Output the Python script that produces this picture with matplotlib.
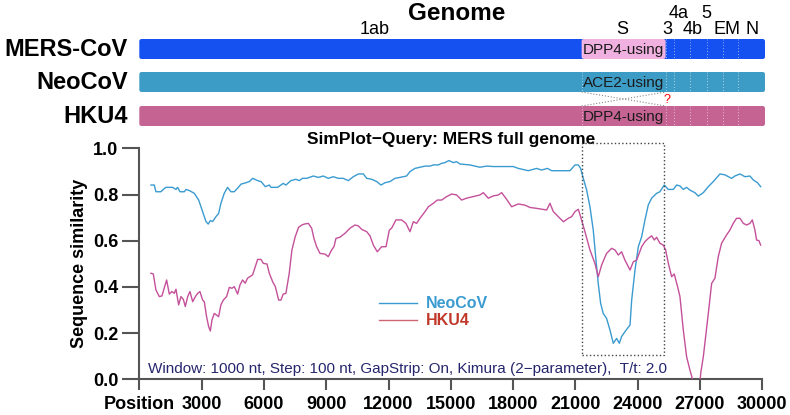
import matplotlib
matplotlib.use("Agg")
import matplotlib.pyplot as plt
from matplotlib.patches import FancyBboxPatch, Rectangle
from matplotlib.lines import Line2D

plt.rcParams['font.family'] = ['Liberation Sans', 'DejaVu Sans']

# ---------------- data ----------------
neo_pos = [560, 720, 800, 1040, 1155, 1280, 1600, 1765, 1845, 1960, 2170, 2250, 2410, 2650, 2860,
           3050, 3210, 3320, 3420, 3530, 3690, 3820, 3930, 4090, 4250, 4410, 4570, 4730, 4900, 5140,
           5300, 5460, 5700, 5860, 6070, 6260, 6340, 6660, 6820, 6930, 7060, 7300, 7540, 7700, 7860,
           8060, 8380, 8620, 8860, 9100, 9340, 9580, 9820, 10065, 10305, 10550, 10790, 10950, 11190,
           11430, 11640, 11830, 12070, 12310, 12550, 12870, 13035, 13275, 13515, 13760, 14000, 14160,
           14400, 14560, 14720, 14910, 15120, 15280, 15440, 15920, 16400, 16720, 17047, 18010, 18250,
           18730, 19130, 19370, 19650, 19860, 20740, 20980, 21140, 21250, 21380, 21540, 21700, 21860,
           21990, 22100, 22215, 22340, 22500, 22665, 22825, 22985, 23115, 23225, 23385, 23630, 23710,
           23870, 24030, 24190, 24350, 24510, 24670, 24910, 25070, 25280, 25470, 25715, 25875, 26035,
           26195, 26355, 26515, 26755, 26915, 27160, 27400, 27640, 27960, 28200, 28520, 28680, 28925,
           29165, 29405, 29565, 29770, 29920]
neo_sim = [0.841, 0.841, 0.812, 0.812, 0.822, 0.831, 0.831, 0.822, 0.831, 0.812, 0.812, 0.822, 0.817,
           0.805, 0.776, 0.726, 0.683, 0.672, 0.687, 0.683, 0.704, 0.718, 0.762, 0.805, 0.831, 0.812,
           0.812, 0.827, 0.845, 0.851, 0.856, 0.870, 0.860, 0.856, 0.834, 0.841, 0.831, 0.831, 0.841,
           0.848, 0.841, 0.860, 0.866, 0.860, 0.870, 0.870, 0.880, 0.874, 0.880, 0.870, 0.877, 0.870,
           0.870, 0.860, 0.877, 0.889, 0.889, 0.870, 0.866, 0.856, 0.841, 0.851, 0.856, 0.870, 0.874,
           0.880, 0.899, 0.913, 0.918, 0.923, 0.923, 0.928, 0.928, 0.935, 0.938, 0.947, 0.938, 0.942,
           0.932, 0.928, 0.918, 0.923, 0.921, 0.921, 0.913, 0.903, 0.913, 0.906, 0.913, 0.903, 0.903,
           0.928, 0.928, 0.913, 0.870, 0.820, 0.747, 0.646, 0.517, 0.415, 0.329, 0.285, 0.264, 0.213,
           0.156, 0.177, 0.156, 0.185, 0.206, 0.235, 0.343, 0.473, 0.574, 0.617, 0.690, 0.755, 0.784,
           0.805, 0.812, 0.841, 0.822, 0.822, 0.841, 0.837, 0.822, 0.831, 0.819, 0.808, 0.793, 0.808,
           0.834, 0.856, 0.889, 0.885, 0.870, 0.880, 0.889, 0.877, 0.880, 0.863, 0.851, 0.834]

hku_pos = [560, 675, 800, 963, 1090, 1200, 1315, 1445, 1570, 1685, 1765, 1895, 2005, 2120, 2215,
           2330, 2440, 2570, 2700, 2810, 2920, 3050, 3130, 3240, 3340, 3420, 3500, 3610, 3725, 3820,
           3930, 4045, 4205, 4335, 4460, 4575, 4735, 4850, 4975, 5100, 5215, 5455, 5585, 5700, 5860,
           5970, 6150, 6260, 6420, 6550, 6610, 6710, 6820, 6930, 7060, 7220, 7350, 7510, 7670, 7830,
           7945, 8140, 8300, 8410, 8540, 8700, 8940, 9100, 9260, 9375, 9470, 9660, 9905, 10145, 10385,
           10545, 10710, 10950, 11110, 11270, 11460, 11670, 11880, 12040, 12150, 12360, 12630, 12840,
           13035, 13195, 13355, 13515, 13760, 13920, 14160, 14350, 14560, 14800, 15040, 15280, 15520,
           15760, 16085, 16405, 16565, 16805, 17047, 17290, 17450, 17690, 17930, 18250, 18570, 18810,
           19130, 19615, 19775, 19935, 20175, 20420, 20660, 20820, 20980, 21140, 21250, 21460, 21700,
           21940, 22100, 22265, 22500, 22745, 22905, 23065, 23225, 23385, 23630, 23790, 23950, 24190,
           24350, 24510, 24670, 24800, 24910, 25070, 25230, 25345, 25475, 25635, 25760, 25920, 26035,
           26195, 26355, 26515, 26630, 26800, 26950, 27045, 27160, 27400, 27560, 27720, 27880, 28040,
           28280, 28440, 28600, 28760, 28925, 29085, 29245, 29405, 29520, 29645, 29725, 29840, 29920]
hku_sim = [0.459, 0.456, 0.387, 0.358, 0.361, 0.394, 0.430, 0.369, 0.380, 0.372, 0.390, 0.322, 0.358,
           0.346, 0.315, 0.358, 0.380, 0.336, 0.358, 0.372, 0.380, 0.343, 0.336, 0.271, 0.228, 0.209,
           0.257, 0.285, 0.278, 0.271, 0.322, 0.343, 0.358, 0.398, 0.394, 0.401, 0.369, 0.409, 0.430,
           0.416, 0.438, 0.452, 0.488, 0.519, 0.519, 0.502, 0.499, 0.459, 0.423, 0.401, 0.380, 0.343,
           0.343, 0.369, 0.372, 0.459, 0.560, 0.618, 0.658, 0.668, 0.672, 0.675, 0.654, 0.610, 0.574,
           0.545, 0.542, 0.531, 0.560, 0.574, 0.610, 0.615, 0.632, 0.654, 0.668, 0.664, 0.649, 0.639,
           0.621, 0.581, 0.552, 0.574, 0.574, 0.646, 0.654, 0.690, 0.690, 0.675, 0.639, 0.682, 0.675,
           0.697, 0.726, 0.747, 0.762, 0.776, 0.776, 0.791, 0.802, 0.798, 0.776, 0.784, 0.791, 0.798,
           0.808, 0.784, 0.794, 0.798, 0.808, 0.779, 0.747, 0.759, 0.754, 0.744, 0.740, 0.733, 0.762,
           0.726, 0.704, 0.682, 0.697, 0.704, 0.726, 0.736, 0.704, 0.639, 0.560, 0.502, 0.444, 0.495,
           0.545, 0.567, 0.560, 0.538, 0.552, 0.516, 0.473, 0.509, 0.516, 0.574, 0.596, 0.610, 0.621,
           0.603, 0.615, 0.589, 0.581, 0.560, 0.502, 0.444, 0.456, 0.401, 0.358, 0.214, 0.098, 0.040,
           0.004, -0.05, -0.05, 0.033, 0.098, 0.285, 0.415, 0.438, 0.531, 0.589, 0.625, 0.646, 0.675,
           0.697, 0.697, 0.675, 0.668, 0.675, 0.690, 0.646, 0.603, 0.600, 0.581]

series_names = ['NeoCoV', 'HKU4']

x_ticks = [0, 3000, 6000, 9000, 12000, 15000, 18000, 21000, 24000, 27000, 30000]
x_tick_labels = ['Position', '3000', '6000', '9000', '12000', '15000', '18000', '21000',
                 '24000', '27000', '30000']
y_ticks = [0.0, 0.2, 0.4, 0.6, 0.8, 1.0]

# genome map
genome_names = ['MERS-CoV', 'NeoCoV', 'HKU4']
s_labels = ['DPP4-using', 'ACE2-using', 'DPP4-using']
genome_len = 30130
s_start, s_end = 21300, 25345
orf_bounds = [25760, 26515, 27320, 28120, 28815]
gene_labels = ['1ab', 'S', '3', '4a', '4b', '5', 'EM', 'N']
gene_label_pos = [11330, 23230, 25410, 25990, 26660, 27290, 28300, 29500]
gene_label_row = [0, 0, 0, 1, 0, 1, 0, 0]

box_start, box_end = 21300, 25280
box_low, box_high = 0.107, 1.022

# ---------------- styles ----------------
c_neo = '#3a9bd0'
c_hku = '#c4509a'
c_hku_leg = '#cc6675'
bar_colors = ['#1550f0', '#3d9cc6', '#c56493']
s_colors = ['#f0b0e0', '#3d9cc6', '#c56493']
row_y = [49, 82, 116]
bar_h = 20
axis_grey = '#555555'

W, H = 790, 415
fig = plt.figure(figsize=(W / 100, H / 100), dpi=100)

left_px, right_px = 139.3, 762.3
bot_px, top_px = 379.3, 148.3
ax = fig.add_axes([left_px / W, 1 - bot_px / H, (right_px - left_px) / W, (bot_px - top_px) / H])
gax = fig.add_axes([left_px / W, 1 - 135 / H, (right_px - left_px) / W, 135 / H])

# ---------------- main similarity plot ----------------
ax.plot(neo_pos, neo_sim, color=c_neo, lw=1.0, zorder=3)
ax.plot(hku_pos, hku_sim, color=c_hku, lw=1.0, zorder=3)
ax.set_xlim(0, 30000)
ax.set_ylim(0, 1.0)
for s in ['top', 'right']:
    ax.spines[s].set_visible(False)
for s in ['left', 'bottom']:
    ax.spines[s].set_color(axis_grey)
    ax.spines[s].set_linewidth(1.5)
ax.set_xticks(x_ticks)
ax.set_xticklabels(x_tick_labels)
ax.set_yticks(y_ticks)
ax.set_yticklabels([f'{v:.1f}' for v in y_ticks])
ax.tick_params(axis='y', direction='out', length=12, width=1.5, color=axis_grey, pad=3, labelsize=13)
ax.tick_params(axis='x', direction='out', length=8, width=1.5, color=axis_grey, pad=4, labelsize=13)
for lab in ax.get_xticklabels() + ax.get_yticklabels():
    lab.set_fontweight('bold')
ax.set_ylabel('Sequence similarity', fontsize=13, fontweight='bold', labelpad=4)
ax.set_title('SimPlot\u2212Query: MERS full genome', fontsize=12.5, fontweight='bold', pad=3)

ax.add_patch(Rectangle((box_start, box_low), box_end - box_start, box_high - box_low,
                       fill=False, ls=':', lw=1.0, ec='#444444', clip_on=False, zorder=4))

ax.text(420, 0.045, 'Window: 1000 nt, Step: 100 nt, GapStrip: On, Kimura (2\u2212parameter),  T/t: 2.0',
        fontsize=11, color='#26266e', va='center', ha='left')

handles = [Line2D([], [], color=c_neo, lw=1.0), Line2D([], [], color=c_hku_leg, lw=1.0)]
leg = ax.legend(handles, series_names, loc='center left', bbox_to_anchor=(0.385, 0.29),
                frameon=False, fontsize=11.5, handlelength=2.4, handletextpad=0.5,
                labelspacing=0.12, borderpad=0, borderaxespad=0)
for t, c in zip(leg.get_texts(), ['#3a9bd0', '#c0392b']):
    t.set_color(c)
    t.set_fontweight('bold')

# ---------------- genome map ----------------
gax.set_xlim(0, 30000)
gax.set_ylim(135, 0)
gax.axis('off')
rs = 110
asp = 1 / 48.15
for i, (name, yc) in enumerate(zip(genome_names, row_y)):
    y0 = yc - bar_h / 2
    gax.add_patch(FancyBboxPatch((0, y0), genome_len, bar_h,
                                 boxstyle=f'round,pad=0,rounding_size={rs}', mutation_aspect=asp,
                                 fc=bar_colors[i], ec='none', clip_on=False))
    if s_colors[i] != bar_colors[i]:
        gax.add_patch(FancyBboxPatch((s_start, y0), s_end - s_start, bar_h,
                                     boxstyle=f'round,pad=0,rounding_size={rs}', mutation_aspect=asp,
                                     fc=s_colors[i], ec='none', clip_on=False))
    for b in [s_start, s_end] + orf_bounds:
        gax.plot([b, b], [y0, y0 + bar_h], color='white', lw=0.6, alpha=0.75,
                 ls=(0, (1, 2.5)), clip_on=False)
    gax.text(-560, yc, name, ha='right', va='center', fontsize=17, fontweight='bold', clip_on=False)
    gax.text((s_start + s_end) / 2, yc + 1, s_labels[i], ha='center', va='center', fontsize=11,
             color='#1a1a1a', clip_on=False)

# cross lines between NeoCoV and HKU4 S regions
y_a = row_y[1] + bar_h / 2
y_b = row_y[2] - bar_h / 2
gax.plot([s_start, s_end], [y_a, y_b], color='#888888', lw=0.8, ls=':', clip_on=False)
gax.plot([s_start, s_end], [y_b, y_a], color='#888888', lw=0.8, ls=':', clip_on=False)
gax.text(s_end + 60, (y_a + y_b) / 2 + 1, '?', color='red', fontsize=9, ha='center', va='center')

for lab, xp, r in zip(gene_labels, gene_label_pos, gene_label_row):
    gax.text(xp, 30 - 17 * r, lab, ha='center', va='center', fontsize=13, clip_on=False)

gax.text(15270, 13, 'Genome', ha='center', va='center', fontsize=17.5, fontweight='bold')

fig.savefig('out.png', dpi=100)
